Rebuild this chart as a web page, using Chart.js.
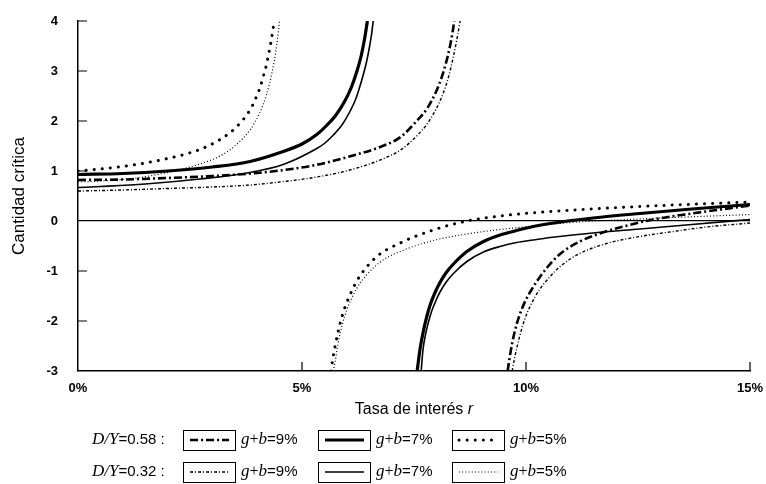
<!DOCTYPE html>
<html lang="es">
  <head>
    <meta charset="UTF-8" />
    <title>Cantidad crítica</title>
    <style>
      html, body { margin: 0; padding: 0; background: #ffffff; }
      .chart { width: 766px; height: 484px; position: relative; }
    </style>
    <script src="https://cdn.jsdelivr.net/npm/chart.js"></script>
  </head>
  <body>
    <div class="chart">
      <canvas id="myChart"></canvas>
    </div>
    <script>
      // tasa de interés r (%) y cantidad crítica
      // D/Y = 0.58, g+b = 9%
      const r58g9Up = [0, 1, 2, 3, 4, 4.6, 5.3, 6.1, 6.8, 7.2, 7.56, 7.8, 8.0, 8.12, 8.22, 8.3, 8.36, 8.4];
      const c58g9Up = [0.82, 0.83, 0.86, 0.9, 0.96, 1.02, 1.12, 1.3, 1.5, 1.68, 2.0, 2.26, 2.6, 2.88, 3.18, 3.48, 3.77, 4.0];
      const r58g9Low = [9.59, 9.62, 9.69, 9.79, 9.89, 10.0, 10.12, 10.24, 10.48, 10.76, 11.2, 11.65, 12.17, 12.9, 13.7, 15];
      const c58g9Low = [-3, -2.82, -2.45, -2.07, -1.8, -1.57, -1.38, -1.21, -0.92, -0.66, -0.41, -0.25, -0.11, 0.04, 0.15, 0.31];
      // D/Y = 0.58, g+b = 7%
      const r58g7Up = [0, 1, 2, 3, 3.84, 4.58, 5.0, 5.33, 5.55, 5.75, 5.95, 6.1, 6.22, 6.32, 6.4, 6.46];
      const c58g7Up = [0.93, 0.95, 1.0, 1.08, 1.19, 1.39, 1.54, 1.73, 1.91, 2.11, 2.39, 2.67, 2.98, 3.3, 3.66, 4.0];
      const r58g7Low = [7.57, 7.64, 7.71, 7.78, 7.86, 7.96, 8.08, 8.22, 8.38, 8.68, 9.05, 9.42, 9.79, 10.16, 10.54, 11.5, 12.54, 13.7, 15];
      const c58g7Low = [-3, -2.53, -2.2, -1.93, -1.68, -1.45, -1.23, -1.03, -0.86, -0.61, -0.41, -0.28, -0.19, -0.11, -0.05, 0.06, 0.15, 0.24, 0.33];
      // D/Y = 0.58, g+b = 5%
      const r58g5Up = [0, 0.5, 1.3, 2.0, 2.45, 2.72, 3.17, 3.5, 3.84, 3.95, 4.06, 4.13, 4.2, 4.26, 4.31, 4.35, 4.38];
      const c58g5Up = [1.0, 1.04, 1.13, 1.25, 1.35, 1.43, 1.63, 1.85, 2.22, 2.42, 2.66, 2.87, 3.1, 3.36, 3.6, 3.82, 4.0];
      const r58g5Low = [5.65, 5.68, 5.75, 5.85, 5.95, 6.07, 6.2, 6.33, 6.67, 7.19, 7.93, 8.68, 9.42, 10.4, 12.54, 15];
      const c58g5Low = [-3, -2.8, -2.45, -2.05, -1.75, -1.48, -1.24, -1.05, -0.71, -0.44, -0.18, 0.0, 0.1, 0.18, 0.29, 0.38];
      // D/Y = 0.32, g+b = 9%
      const r32g9Up = [0, 1, 2, 3, 3.84, 4.6, 5.33, 6.07, 6.8, 7.2, 7.56, 7.8, 8.0, 8.15, 8.27, 8.37, 8.45, 8.53];
      const c32g9Up = [0.6, 0.62, 0.65, 0.68, 0.72, 0.79, 0.88, 1.02, 1.24, 1.42, 1.7, 1.95, 2.25, 2.55, 2.88, 3.25, 3.6, 4.0];
      const r32g9Low = [9.69, 9.75, 9.87, 9.97, 10.09, 10.2, 10.31, 10.54, 10.76, 11.2, 11.8, 12.54, 13.29, 14.03, 15];
      const c32g9Low = [-3, -2.72, -2.27, -1.97, -1.71, -1.52, -1.36, -1.11, -0.91, -0.65, -0.45, -0.31, -0.21, -0.12, -0.04];
      // D/Y = 0.32, g+b = 7%
      const r32g7Up = [0, 0.5, 1.5, 2.72, 3.84, 4.58, 5.33, 5.5, 5.7, 5.9, 6.07, 6.2, 6.36, 6.44, 6.5, 6.55, 6.59];
      const c32g7Up = [0.67, 0.69, 0.74, 0.84, 0.97, 1.13, 1.45, 1.55, 1.72, 1.93, 2.19, 2.44, 2.9, 3.18, 3.45, 3.72, 4.0];
      const r32g7Low = [7.66, 7.7, 7.75, 7.82, 7.9, 8.0, 8.08, 8.22, 8.38, 8.68, 9.05, 9.42, 9.79, 10.16, 10.54, 11.6, 12.54, 13.7, 15];
      const c32g7Low = [-3, -2.58, -2.3, -2.03, -1.79, -1.57, -1.42, -1.22, -1.05, -0.81, -0.62, -0.51, -0.43, -0.38, -0.33, -0.23, -0.16, -0.07, 0.03];
      // D/Y = 0.32, g+b = 5%
      const r32g5Up = [0, 0.5, 1.3, 2.05, 2.72, 3.17, 3.5, 3.84, 3.95, 4.13, 4.28, 4.38, 4.45, 4.5];
      const c32g5Up = [0.78, 0.8, 0.86, 0.98, 1.14, 1.3, 1.5, 1.82, 1.98, 2.32, 2.77, 3.2, 3.62, 4.0];
      const r32g5Low = [5.7, 5.76, 5.8, 5.9, 6.0, 6.22, 6.44, 6.81, 7.19, 7.93, 8.68, 9.42, 10.16, 11.0, 12.5, 15];
      const c32g5Low = [-3, -2.7, -2.47, -2.07, -1.78, -1.35, -1.08, -0.78, -0.61, -0.39, -0.26, -0.17, -0.1, -0.03, 0.04, 0.13];

      const xTicks = [0, 5, 10, 15];
      const yTicks = [-3, -2, -1, 0, 1, 2, 3, 4];
      const rowLabels = ["0.58", "0.32"];
      const gbLabels = ["9%", "7%", "5%"];

      const styles = {
        "58g9": { borderWidth: 2.6, borderDash: [8, 3, 2, 3] },
        "58g7": { borderWidth: 3.2, borderDash: [] },
        "58g5": { borderWidth: 3, borderDash: [0.1, 8], borderCapStyle: "round" },
        "32g9": { borderWidth: 1.4, borderDash: [3, 2, 1, 2] },
        "32g7": { borderWidth: 1.6, borderDash: [] },
        "32g5": { borderWidth: 1.2, borderDash: [1, 2.2] }
      };

      const pts = (rs, cs) => rs.map((r, i) => ({ x: r, y: cs[i] }));
      function branch(key, rs, cs) {
        return Object.assign({
          key: key,
          data: pts(rs, cs),
          borderColor: "#000",
          pointRadius: 0,
          fill: false,
          cubicInterpolationMode: "monotone",
          borderCapStyle: "butt"
        }, styles[key]);
      }

      const datasets = [
        branch("58g9", r58g9Up, c58g9Up), branch("58g9", r58g9Low, c58g9Low),
        branch("58g7", r58g7Up, c58g7Up), branch("58g7", r58g7Low, c58g7Low),
        branch("58g5", r58g5Up, c58g5Up), branch("58g5", r58g5Low, c58g5Low),
        branch("32g9", r32g9Up, c32g9Up), branch("32g9", r32g9Low, c32g9Low),
        branch("32g7", r32g7Up, c32g7Up), branch("32g7", r32g7Low, c32g7Low),
        branch("32g5", r32g5Up, c32g5Up), branch("32g5", r32g5Low, c32g5Low)
      ];

      const SANS = "'Liberation Sans', Arial, sans-serif";
      const SERIF = "'Liberation Serif', 'Times New Roman', serif";

      function runs(ctx, parts, x, y) {
        parts.forEach(([text, font]) => {
          ctx.font = font;
          ctx.fillText(text, x, y);
          x += ctx.measureText(text).width;
        });
        return x;
      }

      // ejes con marcas hacia dentro, título del eje x y leyenda
      const extras = {
        id: "extras",
        afterDraw(chart) {
          const { ctx, chartArea: a, scales: { x, y } } = chart;
          ctx.save();
          ctx.strokeStyle = "#000";
          ctx.fillStyle = "#000";
          ctx.lineWidth = 1.2;
          ctx.beginPath();
          yTicks.forEach((v) => {
            if (v === 0 || v === -3) return;
            const py = y.getPixelForValue(v);
            ctx.moveTo(a.left, py);
            ctx.lineTo(a.left + 9, py);
          });
          xTicks.forEach((v) => {
            if (v === 0) return;
            const px = x.getPixelForValue(v);
            ctx.moveTo(px, a.bottom);
            ctx.lineTo(px, a.bottom - 9);
          });
          ctx.stroke();

          ctx.textBaseline = "middle";
          ctx.textAlign = "left";
          const t1 = "Tasa de interés ";
          ctx.font = "16px " + SANS;
          const w1 = ctx.measureText(t1).width;
          ctx.font = "italic 16px " + SANS;
          const w2 = ctx.measureText("r").width;
          const cx = (a.left + a.right) / 2;
          runs(ctx, [[t1, "16px " + SANS], ["r", "italic 16px " + SANS]], cx - (w1 + w2) / 2, 410);

          const boxX = [183, 318, 452];
          const rowY = [440, 472];
          rowLabels.forEach((lab, row) => {
            const cy = rowY[row];
            runs(ctx, [["D/Y", "italic 17px " + SERIF], ["=" + lab + " :", "15px " + SANS]], 92, cy);
            ["g9", "g7", "g5"].forEach((g, k) => {
              const st = styles[(row === 0 ? "58" : "32") + g];
              const bx = boxX[k];
              ctx.lineWidth = 1;
              ctx.setLineDash([]);
              ctx.lineCap = "butt";
              ctx.strokeRect(bx + 0.5, cy - 10 + 0.5, 52, 20);
              ctx.lineWidth = st.borderWidth;
              ctx.setLineDash(st.borderDash);
              ctx.lineCap = st.borderCapStyle || "butt";
              ctx.beginPath();
              ctx.moveTo(bx + 7, cy);
              ctx.lineTo(bx + 46, cy);
              ctx.stroke();
              ctx.setLineDash([]);
              runs(ctx, [
                ["g", "italic 17px " + SERIF],
                ["+", "16px " + SERIF],
                ["b", "italic 17px " + SERIF],
                ["=" + gbLabels[k], "15px " + SANS]
              ], bx + 58, cy);
            });
          });
          ctx.restore();
        }
      };

      const config = {
        type: "line",
        data: { datasets: datasets },
        options: {
          responsive: true,
          maintainAspectRatio: false,
          animation: false,
          events: [],
          layout: { padding: { top: 21, right: 16, left: 0, bottom: 0 } },
          plugins: { legend: { display: false }, tooltip: { enabled: false } },
          scales: {
            x: {
              type: "linear",
              min: 0,
              max: 15,
              afterFit: (s) => { s.height = 113; s.paddingLeft = 0; s.paddingRight = 0; },
              afterBuildTicks: (s) => { s.ticks = xTicks.map((v) => ({ value: v })); },
              grid: { display: false, drawTicks: false },
              border: { display: true, color: "#000", width: 1.5 },
              ticks: {
                color: "#000",
                padding: 10,
                maxRotation: 0,
                font: { family: SANS, size: 13, weight: "bold" },
                callback: (v) => v + "%"
              }
            },
            y: {
              min: -3,
              max: 4,
              afterFit: (s) => { s.width = 78; s.paddingTop = 0; s.paddingBottom = 0; },
              afterBuildTicks: (s) => { s.ticks = yTicks.map((v) => ({ value: v })); },
              grid: {
                drawTicks: false,
                color: (c) => (c.tick && c.tick.value === 0 ? "#000" : "rgba(0,0,0,0)"),
                lineWidth: 1.3
              },
              border: { display: true, color: "#000", width: 1.5 },
              ticks: {
                color: "#000",
                padding: 20,
                font: { family: SANS, size: 13, weight: "bold" }
              },
              title: {
                display: true,
                text: "Cantidad crítica",
                color: "#000",
                padding: { top: 9, bottom: 0 },
                font: { family: SANS, size: 17 }
              }
            }
          }
        },
        plugins: [extras]
      };

      const myChart = new Chart(document.getElementById("myChart"), config);
    </script>
  </body>
</html>
